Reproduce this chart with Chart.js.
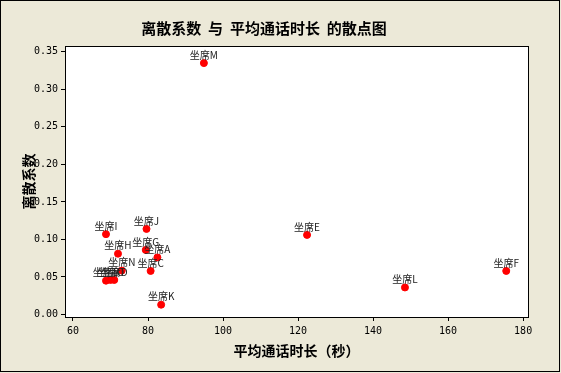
<!DOCTYPE html>
<html>
<head>
<meta charset="utf-8">
<script src="https://cdn.jsdelivr.net/npm/chart.js@4"></script>
<style>
  html, body { margin: 0; padding: 0; background: #ece9d8; }
  #wrap { width: 561px; height: 373px; }
</style>
</head>
<body>
<div id="wrap"><canvas id="chart" width="561" height="373"></canvas></div>
<script>
// 离散系数 vs 平均通话时长 scatter, Minitab look

const seats = ["坐席A", "坐席B", "坐席C", "坐席D", "坐席E", "坐席F", "坐席G", "坐席H",
               "坐席I", "坐席J", "坐席K", "坐席L", "坐席M", "坐席N", "坐席O"];
const avgTime = [82.5, 68.8, 80.7, 71.0, 122.4, 175.5, 79.4, 72.0,
                 68.8, 79.6, 83.5, 148.5, 94.9, 73.0, 70.0];
const dispersion = [0.076, 0.045, 0.058, 0.046, 0.106, 0.058, 0.086, 0.081,
                    0.107, 0.114, 0.013, 0.036, 0.335, 0.0585, 0.046];

const xTicks = [60, 80, 100, 120, 140, 160, 180];
const yTicks = [0, 0.05, 0.1, 0.15, 0.2, 0.25, 0.3, 0.35];

const CJK = "'Noto Sans CJK SC', sans-serif";
const MONO = "'DejaVu Sans Mono', monospace";

// page background, plot area fill and frame
const framePlugin = {
  id: "frame",
  beforeDraw(chart) {
    const { ctx, chartArea: a } = chart;
    ctx.save();
    ctx.fillStyle = "#ece9d8";
    ctx.fillRect(0, 0, chart.width, chart.height);
    ctx.fillStyle = "#ffffff";
    ctx.fillRect(a.left, a.top, a.right - a.left, a.bottom - a.top);
    ctx.restore();
  },
  afterDraw(chart) {
    const { ctx, chartArea: a } = chart;
    ctx.save();
    ctx.strokeStyle = "#000";
    ctx.lineWidth = 1;
    ctx.strokeRect(Math.round(a.left) + 0.5, Math.round(a.top) + 0.5,
                   Math.round(a.right - a.left), Math.round(a.bottom - a.top));
    ctx.strokeRect(0.5, 0.5, 559, 371);
    ctx.restore();
  }
};

// seat name above each point
const labelPlugin = {
  id: "pointLabels",
  afterDatasetsDraw(chart) {
    const { ctx } = chart;
    const meta = chart.getDatasetMeta(0);
    ctx.save();
    ctx.font = "10px " + CJK;
    ctx.fillStyle = "#222";
    ctx.textAlign = "center";
    ctx.textBaseline = "bottom";
    meta.data.forEach((pt, i) => {
      ctx.fillText(seats[i], pt.x, pt.y - 3);
    });
    ctx.restore();
  }
};

new Chart(document.getElementById("chart"), {
  type: "scatter",
  data: {
    datasets: [{
      data: avgTime.map((x, i) => ({ x: x, y: dispersion[i] })),
      backgroundColor: "#ff0000",
      borderColor: "#ff0000",
      pointRadius: 3.5,
      pointHoverRadius: 3.5
    }]
  },
  plugins: [framePlugin, labelPlugin],
  options: {
    responsive: false,
    animation: false,
    layout: { padding: { left: 0, right: 33, top: 0, bottom: 2 } },
    plugins: {
      legend: { display: false },
      tooltip: { enabled: false },
      title: {
        display: true,
        text: "离散系数  与  平均通话时长  的散点图",
        color: "#000",
        font: { family: CJK, size: 15, weight: "bold" },
        padding: { top: 19, bottom: 9 }
      }
    },
    scales: {
      x: {
        min: 57.87,
        max: 181.3,
        afterBuildTicks: s => { s.ticks = xTicks.map(v => ({ value: v })); },
        afterFit: s => { s.height = 54; },
        border: { display: false },
        grid: { drawOnChartArea: false, drawTicks: true, tickLength: 4, color: "#000" },
        ticks: { color: "#000", font: { family: MONO, size: 10 }, padding: 4 },
        title: {
          display: true,
          text: "平均通话时长（秒）",
          color: "#000",
          font: { family: CJK, size: 14, weight: "bold" },
          padding: { top: 4, bottom: 12 }
        }
      },
      y: {
        min: -0.0034,
        max: 0.3578,
        afterBuildTicks: s => { s.ticks = yTicks.map(v => ({ value: v })); },
        afterFit: s => { s.width = 65; },
        border: { display: false },
        grid: { drawOnChartArea: false, drawTicks: true, tickLength: 4, color: "#000" },
        ticks: {
          color: "#000",
          font: { family: MONO, size: 10 },
          padding: 3,
          callback: v => Number(v).toFixed(2)
        },
        title: {
          display: true,
          text: "离散系数",
          color: "#000",
          font: { family: CJK, size: 14, weight: "bold" },
          padding: { top: 20, bottom: 0 }
        }
      }
    }
  }
});
</script>
</body>
</html>
